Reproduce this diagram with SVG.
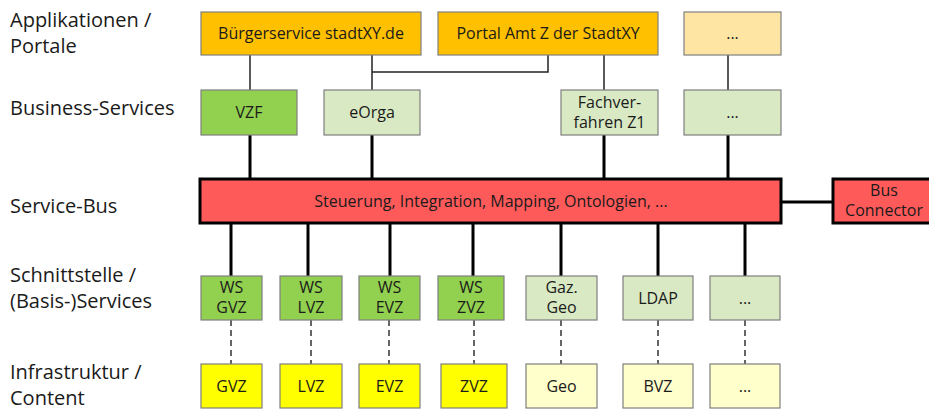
<svg xmlns="http://www.w3.org/2000/svg" width="929" height="410" viewBox="0 0 929 410">
  <style>
    text { font-family: "Open Sans", "Noto Sans", "DejaVu Sans", sans-serif; fill: #1a1a1a; }
    .lbl { font-size: 20px; }
    .t { font-size: 16px; text-anchor: middle; }
    .box { stroke: #7f7f7f; stroke-width: 1.2; }
    .bus { stroke: #000; stroke-width: 3; fill: #ff5a5a; }
    .app { fill: #ffc000; }
    .app2 { fill: #ffe5a3; }
    .bs { fill: #92d050; }
    .bs2 { fill: #d8e9c3; }
    .inf { fill: #ffff00; }
    .inf2 { fill: #ffffcc; }
    .thin { stroke: #222; stroke-width: 1.5; fill: none; }
    .thick { stroke: #000; stroke-width: 3; fill: none; }
    .dash { stroke: #333; stroke-width: 1.5; stroke-dasharray: 6 4; fill: none; }
  </style>

  <!-- layer labels -->
  <g id="labels">
    <text class="lbl" x="10" y="27">Applikationen /</text>
    <text class="lbl" x="10" y="53">Portale</text>
    <text class="lbl" x="10" y="115">Business-Services</text>
    <text class="lbl" x="10" y="213">Service-Bus</text>
    <text class="lbl" x="10" y="282">Schnittstelle /</text>
    <text class="lbl" x="10" y="308">(Basis-)Services</text>
    <text class="lbl" x="10" y="379">Infrastruktur /</text>
    <text class="lbl" x="10" y="405">Content</text>
  </g>

  <!-- connectors -->
  <g id="connectors">
    <line class="thin" x1="250" y1="55" x2="250" y2="90"/>
    <polyline class="thin" points="372,55 372,90"/>
    <polyline class="thin" points="548,55 548,72 372,72"/>
    <line class="thin" x1="604" y1="55" x2="604" y2="90"/>
    <line class="thin" x1="728" y1="55" x2="728" y2="90"/>

    <line class="thick" x1="250" y1="135" x2="250" y2="178"/>
    <line class="thick" x1="372" y1="135" x2="372" y2="178"/>
    <line class="thick" x1="604" y1="135" x2="604" y2="178"/>
    <line class="thick" x1="728" y1="135" x2="728" y2="178"/>

    <line class="thick" x1="781" y1="202" x2="832" y2="202"/>

    <line class="thick" x1="231" y1="223" x2="231" y2="276"/>
    <line class="thick" x1="308" y1="223" x2="308" y2="276"/>
    <line class="thick" x1="390" y1="223" x2="390" y2="276"/>
    <line class="thick" x1="473" y1="223" x2="473" y2="276"/>
    <line class="thick" x1="561" y1="223" x2="561" y2="276"/>
    <line class="thick" x1="658" y1="223" x2="658" y2="276"/>
    <line class="thick" x1="745" y1="223" x2="745" y2="276"/>

    <line class="dash" x1="231" y1="320" x2="231" y2="364"/>
    <line class="dash" x1="311" y1="320" x2="311" y2="364"/>
    <line class="dash" x1="389" y1="320" x2="389" y2="364"/>
    <line class="dash" x1="474" y1="320" x2="474" y2="364"/>
    <line class="dash" x1="561" y1="320" x2="561" y2="364"/>
    <line class="dash" x1="658" y1="320" x2="658" y2="364"/>
    <line class="dash" x1="745" y1="320" x2="745" y2="364"/>
  </g>

  <!-- applications / portals -->
  <g id="app-buergerservice">
    <rect class="box app" x="201" y="12" width="220" height="43"/>
    <text class="t" x="311" y="39">Bürgerservice stadtXY.de</text>
  </g>
  <g id="app-portal">
    <rect class="box app" x="438" y="12" width="220" height="43"/>
    <text class="t" x="548" y="39">Portal Amt Z der StadtXY</text>
  </g>
  <g id="app-more">
    <rect class="box app2" x="684" y="12" width="97" height="43"/>
    <text class="t" x="732.5" y="39">...</text>
  </g>

  <!-- business services -->
  <g id="bs-vzf">
    <rect class="box bs" x="201" y="90" width="96" height="45"/>
    <text class="t" x="249" y="118">VZF</text>
  </g>
  <g id="bs-eorga">
    <rect class="box bs2" x="324" y="90" width="96" height="45"/>
    <text class="t" x="372" y="118">eOrga</text>
  </g>
  <g id="bs-fachverfahren">
    <rect class="box bs2" x="561" y="90" width="97" height="45"/>
    <text class="t" x="609.5" y="108">Fachver-</text>
    <text class="t" x="609.5" y="128">fahren Z1</text>
  </g>
  <g id="bs-more">
    <rect class="box bs2" x="684" y="90" width="97" height="45"/>
    <text class="t" x="732.5" y="118">...</text>
  </g>

  <!-- service bus -->
  <g id="service-bus">
    <rect class="bus" x="200" y="179" width="581" height="44"/>
    <text class="t" x="491" y="207">Steuerung, Integration, Mapping, Ontologien, ...</text>
  </g>
  <g id="bus-connector">
    <rect class="bus" x="833" y="179" width="104" height="44"/>
    <text class="t" x="884" y="196">Bus</text>
    <text class="t" x="884" y="216">Connector</text>
  </g>

  <!-- interface / base services -->
  <g id="ws-gvz">
    <rect class="box bs" x="201" y="276" width="61" height="44"/>
    <text class="t" x="231.5" y="293">WS</text>
    <text class="t" x="231.5" y="313">GVZ</text>
  </g>
  <g id="ws-lvz">
    <rect class="box bs" x="280" y="276" width="62" height="44"/>
    <text class="t" x="311" y="293">WS</text>
    <text class="t" x="311" y="313">LVZ</text>
  </g>
  <g id="ws-evz">
    <rect class="box bs" x="359" y="276" width="61" height="44"/>
    <text class="t" x="389.5" y="293">WS</text>
    <text class="t" x="389.5" y="313">EVZ</text>
  </g>
  <g id="ws-zvz">
    <rect class="box bs" x="438" y="276" width="66" height="44"/>
    <text class="t" x="471" y="293">WS</text>
    <text class="t" x="471" y="313">ZVZ</text>
  </g>
  <g id="gaz-geo">
    <rect class="box bs2" x="526" y="276" width="71" height="44"/>
    <text class="t" x="561.5" y="293">Gaz.</text>
    <text class="t" x="561.5" y="313">Geo</text>
  </g>
  <g id="ldap">
    <rect class="box bs2" x="623" y="276" width="70" height="44"/>
    <text class="t" x="658" y="304">LDAP</text>
  </g>
  <g id="svc-more">
    <rect class="box bs2" x="710" y="276" width="70" height="44"/>
    <text class="t" x="745" y="304">...</text>
  </g>

  <!-- infrastructure / content -->
  <g id="inf-gvz">
    <rect class="box inf" x="201" y="364" width="61" height="44"/>
    <text class="t" x="231.5" y="392">GVZ</text>
  </g>
  <g id="inf-lvz">
    <rect class="box inf" x="280" y="364" width="62" height="44"/>
    <text class="t" x="311" y="392">LVZ</text>
  </g>
  <g id="inf-evz">
    <rect class="box inf" x="359" y="364" width="61" height="44"/>
    <text class="t" x="389.5" y="392">EVZ</text>
  </g>
  <g id="inf-zvz">
    <rect class="box inf" x="441" y="364" width="66" height="44"/>
    <text class="t" x="474" y="392">ZVZ</text>
  </g>
  <g id="inf-geo">
    <rect class="box inf2" x="526" y="364" width="71" height="44"/>
    <text class="t" x="561.5" y="392">Geo</text>
  </g>
  <g id="inf-bvz">
    <rect class="box inf2" x="623" y="364" width="70" height="44"/>
    <text class="t" x="658" y="392">BVZ</text>
  </g>
  <g id="inf-more">
    <rect class="box inf2" x="710" y="364" width="70" height="44"/>
    <text class="t" x="745" y="392">...</text>
  </g>
</svg>
